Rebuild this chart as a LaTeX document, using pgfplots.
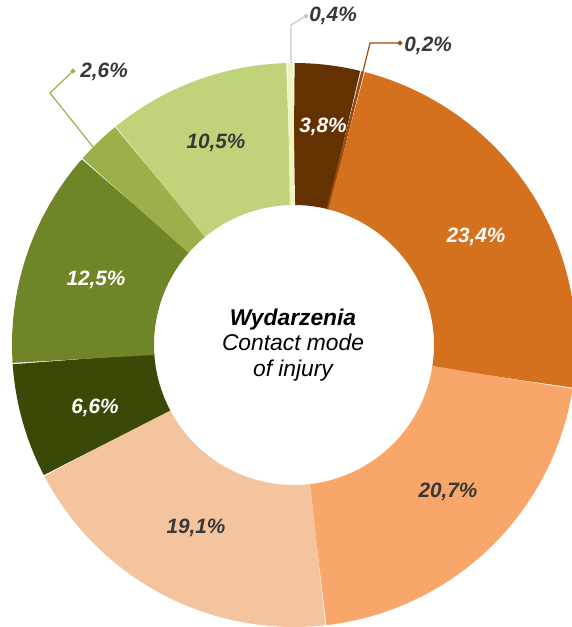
\documentclass[border=0pt]{standalone}
\usepackage{pgfplots}
\pgfplotsset{compat=1.18}
\usepackage{fontspec}
\setmainfont{Liberation Sans}
\definecolor{c1}{HTML}{643200}
\definecolor{c2}{HTML}{9C4A10}
\definecolor{c3}{HTML}{D4711F}
\definecolor{c4}{HTML}{F8A66A}
\definecolor{c5}{HTML}{F4C49E}
\definecolor{c6}{HTML}{3A4A06}
\definecolor{c7}{HTML}{6E8528}
\definecolor{c8}{HTML}{9AB04B}
\definecolor{c9}{HTML}{BFD47A}
\definecolor{c10}{HTML}{EEF3C0}
\definecolor{lab}{HTML}{383838}
% slice values (percent), clockwise from 12 o'clock
% 3.8, 0.2, 23.4, 20.7, 19.1, 6.6, 12.5, 2.6, 10.5, 0.4  (total 99.8)
% #1 start (cumulative %), #2 end (cumulative %), #3 colour, #4 samples
\newcommand\slice[4]{%
  \addplot[draw=#3, line width=71pt, line cap=butt, domain=#1:#2, samples=#4]
  ({294+211*cos(90-360*x/99.8)},{282+211*sin(90-360*x/99.8)});}
\begin{document}
\begin{tikzpicture}
\begin{axis}[name=ax, scale only axis, width=286pt, height=313.5pt,
  xmin=0, xmax=572, ymin=0, ymax=627, hide axis]
\slice{0}{3.8}{c1}{15}
\slice{3.8}{4.0}{c2}{2}
\slice{4.0}{27.4}{c3}{86}
\slice{27.4}{48.1}{c4}{76}
\slice{48.1}{67.2}{c5}{70}
\slice{67.2}{73.8}{c6}{25}
\slice{73.8}{86.3}{c7}{46}
\slice{86.3}{88.9}{c8}{11}
\slice{88.9}{99.4}{c9}{39}
\slice{99.4}{99.8}{c10}{2}
% leader lines
\addplot[draw=black!22, line width=0.6pt, mark=*, mark size=0.9pt, mark options={draw=black!22, fill=black!22}, mark indices={3}] coordinates {(291,564) (291,602) (306,611)};
\addplot[draw=c2, line width=0.6pt, mark=*, mark size=0.9pt, mark options={draw=c2, fill=c2}, mark indices={3}] coordinates {(356,527) (370,584) (400,584)};
\addplot[draw=c8, line width=0.6pt, mark=*, mark size=0.9pt, mark options={draw=c8, fill=c8}, mark indices={3}] coordinates {(93,480) (50,534) (73,556)};
% labels
\begin{scope}[every node/.style={font=\fontsize{10.4}{12}\selectfont\bfseries\itshape}]
\node[white] at (axis cs:323,500) {3,8\%};
\node[white] at (axis cs:476,390) {23,4\%};
\node[lab] at (axis cs:448,135) {20,7\%};
\node[lab] at (axis cs:196,99) {19,1\%};
\node[white] at (axis cs:95,219) {6,6\%};
\node[white] at (axis cs:96,347) {12,5\%};
\node[lab] at (axis cs:216,484) {10,5\%};
\node[lab, anchor=west, inner sep=1pt] at (axis cs:307,611) {0,4\%};
\node[lab, anchor=west, inner sep=1pt] at (axis cs:402,581) {0,2\%};
\node[lab, anchor=west, inner sep=1pt] at (axis cs:78,555) {2,6\%};
\end{scope}
\node[align=center, font=\fontsize{11.4}{12.8}\selectfont\itshape] at (axis cs:293,282)
  {{\bfseries Wydarzenia}\\Contact mode\\of injury};
\end{axis}
\pgfresetboundingbox
\path[use as bounding box] (ax.south west) rectangle (ax.north east);
\end{tikzpicture}
\end{document}
